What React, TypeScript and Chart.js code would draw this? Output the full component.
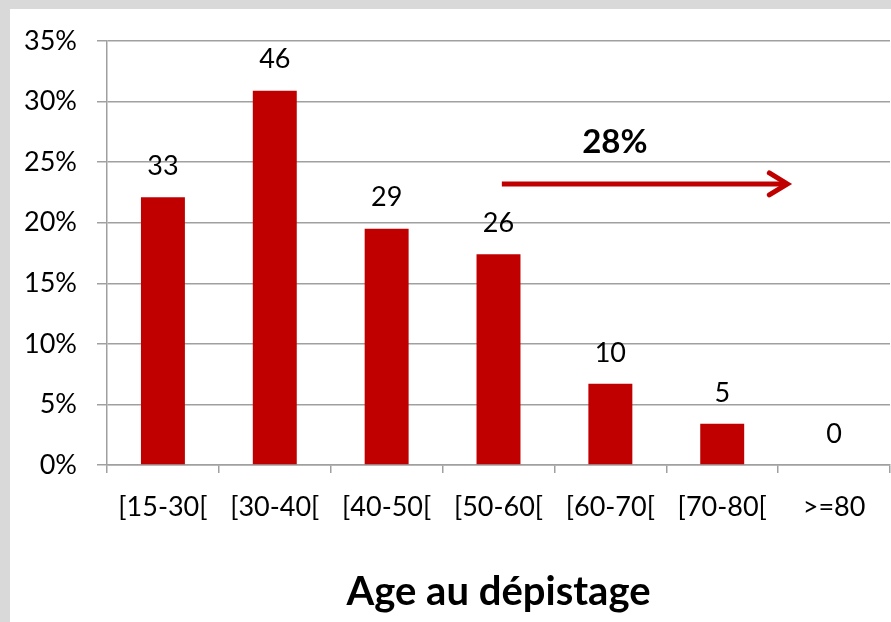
import React, { useEffect, useRef } from "react";
import { Chart, registerables } from "chart.js";

Chart.register(...registerables);

const categories = ["[15-30[", "[30-40[", "[40-50[", "[50-60[", "[60-70[", "[70-80[", ">=80"];
const percentValues = [22.1, 30.9, 19.5, 17.4, 6.7, 3.4, 0];
const countLabels = ["33", "46", "29", "26", "10", "5", "0"];
const yTicks = [0, 5, 10, 15, 20, 25, 30, 35];
const axisTitle = "Age au dépistage";
const annotationText = "28%";
// annotation anchors in data space (category index, percent)
const arrowStart = { x: 3.03, y: 23.2 };
const arrowEnd = { x: 5.6, y: 23.2 };
const annotationPos = { x: 4.04, y: 26.6 };

const FONT = "Lato, 'Open Sans', sans-serif";
const RED = "#c00000";
const GRID = "#a0a0a0";

const bgPlugin = {
  id: "bg",
  beforeDraw(chart: any) {
    const { ctx, width, height } = chart;
    ctx.save();
    ctx.fillStyle = "#d9d9d9";
    ctx.fillRect(0, 0, width, height);
    ctx.fillStyle = "#ffffff";
    ctx.fillRect(10, 9, width - 10, height - 9);
    ctx.restore();
  },
};

const labelPlugin = {
  id: "labels",
  afterDatasetsDraw(chart: any) {
    const { ctx } = chart;
    const meta = chart.getDatasetMeta(0);
    ctx.save();
    ctx.font = `27px ${FONT}`;
    ctx.fillStyle = "#000";
    ctx.textAlign = "center";
    ctx.textBaseline = "middle";
    meta.data.forEach((bar: any, i: number) => {
      ctx.fillText(countLabels[i], bar.x, bar.y - 31);
    });

    const xs = chart.scales.x;
    const ys = chart.scales.y;
    const x0 = xs.getPixelForValue(arrowStart.x);
    const x1 = xs.getPixelForValue(arrowEnd.x);
    const ya = ys.getPixelForValue(arrowStart.y);
    ctx.strokeStyle = RED;
    ctx.lineWidth = 5;
    ctx.lineCap = "butt";
    ctx.beginPath();
    ctx.moveTo(x0, ya);
    ctx.lineTo(x1 - 4, ya);
    ctx.stroke();
    ctx.lineCap = "round";
    ctx.lineJoin = "miter";
    ctx.beginPath();
    ctx.moveTo(x1 - 20, ya - 11);
    ctx.lineTo(x1 - 2, ya);
    ctx.lineTo(x1 - 20, ya + 11);
    ctx.stroke();

    ctx.font = `bold 33px ${FONT}`;
    ctx.fillStyle = "#000";
    ctx.fillText(annotationText, xs.getPixelForValue(annotationPos.x), ys.getPixelForValue(annotationPos.y));
    ctx.restore();
  },
};

export default function App() {
  const ref = useRef<HTMLCanvasElement>(null);
  useEffect(() => {
    if (!ref.current) return;
    const chart = new Chart(ref.current, {
      type: "bar",
      data: {
        labels: categories,
        datasets: [
          {
            data: percentValues,
            backgroundColor: RED,
            borderWidth: 0,
            categoryPercentage: 1,
            barPercentage: 0.393,
          },
        ],
      },
      options: {
        animation: false,
        responsive: false,
        maintainAspectRatio: false,
        layout: { padding: { left: 10, top: 41, right: 1, bottom: 0 } },
        plugins: { legend: { display: false }, tooltip: { enabled: false } },
        scales: {
          x: {
            grid: {
              drawOnChartArea: false,
              drawTicks: true,
              tickLength: 8,
              color: GRID,
              lineWidth: 1.5,
              offset: true,
            },
            border: { display: true, color: GRID, width: 1.5 },
            ticks: {
              color: "#000",
              font: { family: FONT, size: 27 },
              padding: 18,
              maxRotation: 0,
              autoSkip: false,
            },
            title: {
              display: true,
              text: axisTitle,
              color: "#000",
              font: { family: FONT, size: 40, weight: "bold" },
              padding: { top: 0, bottom: 6 },
            },
            afterFit(scale: any) {
              scale.height = 157;
            },
          },
          y: {
            min: 0,
            max: 35,
            afterBuildTicks(scale: any) {
              scale.ticks = yTicks.map((v) => ({ value: v }));
            },
            grid: { color: GRID, lineWidth: 1.5, drawTicks: true, tickLength: 10 },
            border: { display: true, color: GRID, width: 1.5 },
            ticks: {
              color: "#000",
              font: { family: FONT, size: 27 },
              padding: 20,
              callback: (v: any) => `${v}%`,
            },
            afterFit(scale: any) {
              scale.width = 97;
            },
          },
        },
      },
      plugins: [bgPlugin, labelPlugin],
    });
    return () => chart.destroy();
  }, []);
  return (
    <div style={{ position: "absolute", left: 0, top: 0, width: 891, height: 622 }}>
      <canvas ref={ref} width={891} height={622} style={{ width: 891, height: 622 }} />
    </div>
  );
}
